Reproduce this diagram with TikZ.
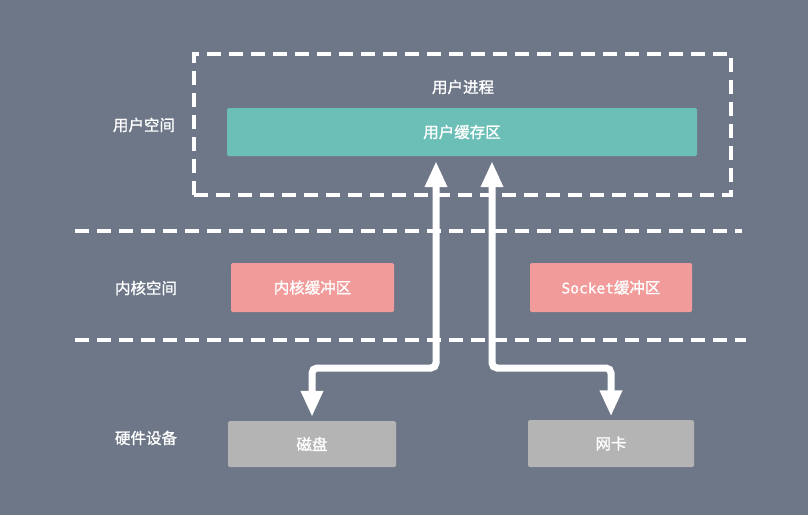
\documentclass[tikz,border=0pt]{standalone}
\usepackage{fontspec}
\newfontfamily\cjk[FakeBold=1.2]{Noto Sans CJK SC}
\newfontfamily\mono[FakeBold=1]{DejaVu Sans Mono}
\usetikzlibrary{arrows.meta}
\definecolor{bg}{HTML}{6E7787}
\definecolor{teal}{HTML}{6CBFB7}
\definecolor{pink}{HTML}{F19C9B}
\definecolor{hw}{HTML}{B4B4B4}
\tikzset{
  lbl/.style={text=white, font=\cjk\fontsize{15.5}{18}\selectfont},
  boxn/.style={rounded corners=1.5pt, inner sep=0pt, text=white, font=\cjk\fontsize{15.5}{18}\selectfont},
  dashline/.style={draw=white, line width=3.5pt, dash pattern=on 14pt off 8pt},
  arr/.style={draw=white, line width=7pt, rounded corners=5pt, {Triangle[width=21pt,length=26pt]}-{Triangle[width=21pt,length=26pt]}}
}
\begin{document}
\begin{tikzpicture}[x=1pt,y=-1pt]
\useasboundingbox (0,0) rectangle (808,515);
\fill[bg] (0,0) rectangle (808,515);
% user process dashed box
\node[dashline, minimum width=537pt, minimum height=141pt, inner sep=0pt] (proc) at (462.5,124.5) {};
\node[lbl] (proctext) at (463,87) {用户进程};
\node[boxn, fill=teal, minimum width=470pt, minimum height=48pt] (ubuf) at (462,132) {用户缓存区};
% dashed separators
\coordinate (s1a) at (75,231);
\coordinate (s1b) at (742,231);
\coordinate (s2a) at (75,340);
\coordinate (s2b) at (746,340);
\draw[dashline] (s1a) -- (s1b);
\draw[dashline] (s2a) -- (s2b);
% labels
\node[lbl] (luser) at (144,125) {用户空间};
\node[lbl] (lkern) at (146,288) {内核空间};
\node[lbl] (lhw) at (146,438) {硬件设备};
% kernel buffers
\node[boxn, fill=pink, minimum width=163pt, minimum height=49pt] (kbuf) at (312.5,287.5) {内核缓冲区};
\node[boxn, fill=pink, minimum width=162pt, minimum height=49pt] (sbuf) at (611,287.5) {{\mono\fontsize{14.5}{18}\selectfont Socket}缓冲区};
% hardware
\node[boxn, fill=hw, minimum width=168pt, minimum height=46pt] (disk) at (312,444) {磁盘};
\node[boxn, fill=hw, minimum width=166pt, minimum height=47pt] (nic) at (611,443.5) {网卡};
% arrows
\coordinate (j1) at (436,368);
\coordinate (j2) at (492,368);
\draw[arr] ([yshift=-5pt]ubuf.south -| j1) -- (j1) -| ([yshift=4pt]disk.north);
\draw[arr] ([yshift=-5pt]ubuf.south -| j2) -- (j2) -| ([yshift=3.5pt]nic.north);
\end{tikzpicture}
\end{document}
